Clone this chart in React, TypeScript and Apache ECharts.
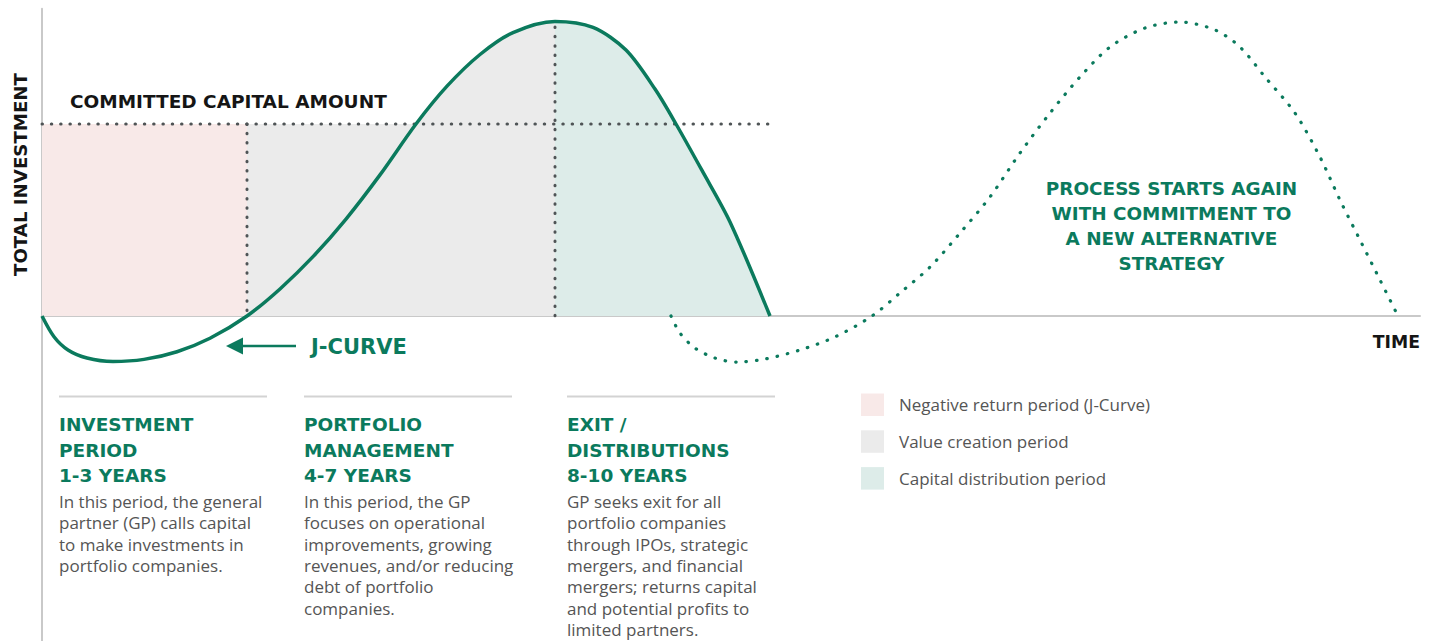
import React, { useEffect, useRef } from "react";
import * as echarts from "echarts";

// ---------- DATA ----------
// x: time (arbitrary units along the horizontal axis), y: total investment (committed capital = 100)
const fundCurve: [number, number][] = [
  [0, 0], [1.2, -10.8], [2.6, -17.7], [4.5, -21.9], [7.1, -23.7], [10.2, -22.6],
  [13.5, -18.6], [16.8, -11.6], [20.5, 0], [23.8, 14.1], [27.1, 30.9], [30.4, 50.5],
  [33.8, 73.5], [37.4, 100], [40.5, 119.7], [43.8, 136.2], [47.1, 147.6], [51.3, 153.4],
  [55.1, 150.3], [58.4, 138.5], [61.3, 118.2], [63.4, 100], [66, 75.8], [68.8, 49],
  [72.8, 0],
];

const nextFundCurve: [number, number][] = [
  [62.9, 0], [63.8, -8.9], [65.3, -16.7], [67.3, -21.9], [69.5, -24], [72.3, -22.4],
  [75.8, -17.7], [79.3, -10.9], [83, 0], [85.8, 12], [88.8, 25.5], [91.8, 43.2],
  [94.8, 62], [97.8, 84.9], [100.8, 105.7], [103.8, 124.5], [106.8, 140.1], [110.3, 150],
  [113.8, 153.1], [117.3, 149], [119.8, 140.1], [122.3, 124.5], [125.3, 105.7],
  [127.8, 82.8], [129.8, 60.4], [131.8, 39.6], [133.8, 18.8], [135.6, 0],
];

const committedCapital = 100;
const committedLineEnd = 73.3;
const phaseBoundaries = [20.5, 51.3];
const boundaryTops = [100, 150.5];
const axisRange = { xMin: 0, xMax: 137.8, yMin: -170, yMax: 160 };

const yAxisTitle = "TOTAL INVESTMENT";
const xAxisTitle = "TIME";
const committedLabel = "COMMITTED CAPITAL AMOUNT";
const jCurveLabel = "J-CURVE";
const restartLabel = ["PROCESS STARTS AGAIN", "WITH COMMITMENT TO", "A NEW ALTERNATIVE", "STRATEGY"];

const phaseTitles = [
  ["INVESTMENT", "PERIOD", "1-3 YEARS"],
  ["PORTFOLIO", "MANAGEMENT", "4-7 YEARS"],
  ["EXIT /", "DISTRIBUTIONS", "8-10 YEARS"],
];
const phaseDescriptions = [
  ["In this period, the general", "partner (GP) calls capital", "to make investments in", "portfolio companies."],
  ["In this period, the GP", "focuses on operational", "improvements, growing", "revenues, and/or reducing", "debt of portfolio", "companies."],
  ["GP seeks exit for all", "portfolio companies", "through IPOs, strategic", "mergers, and financial", "mergers; returns capital", "and potential profits to", "limited partners."],
];
const legendLabels = ["Negative return period (J-Curve)", "Value creation period", "Capital distribution period"];

// ---------- STYLE ----------
const GREEN = "#0b7a5d";
const PINK = "#f8e9e8";
const GRAY = "#ebebeb";
const TEAL = "#ddece9";
const DOT = "#4f5456";
const AXIS = "#c9c9c9";
const BODY = "#555555";
const INK = "#151515";
const HEAD_FONT = '"DejaVu Sans", sans-serif';
const BODY_FONT = '"Open Sans", sans-serif';
const LEGEND_COLORS = [PINK, GRAY, TEAL];
const SMOOTH = 0.3;

const COL_X = [59, 304, 567];
const SEP_W = 208;

function txt(text: string, x: number, y: number, o: any) {
  return {
    type: "text",
    x,
    y,
    rotation: o.rotation || 0,
    silent: true,
    style: {
      text,
      fill: o.fill,
      fontFamily: o.family,
      fontSize: o.size,
      fontWeight: o.weight || "normal",
      lineHeight: o.lineHeight,
      align: o.align || "left",
      textAlign: o.align || "left",
      verticalAlign: o.valign || "middle",
      textVerticalAlign: o.valign || "middle",
    },
  };
}

function buildOption(): any {
  const graphic: any[] = [];

  graphic.push(txt(yAxisTitle, 20, 174.5, { fill: INK, family: HEAD_FONT, size: 18.2, weight: "bold", align: "center", rotation: Math.PI / 2 }));
  graphic.push(txt(committedLabel, 70, 101.5, { fill: INK, family: HEAD_FONT, size: 18.5, weight: "bold" }));
  graphic.push(txt(xAxisTitle, 1420, 341.5, { fill: INK, family: HEAD_FONT, size: 17.3, weight: "bold", align: "right" }));

  // J-curve arrow + label
  graphic.push({ type: "line", silent: true, shape: { x1: 240, y1: 346, x2: 296, y2: 346 }, style: { stroke: GREEN, lineWidth: 2.6 } });
  graphic.push({ type: "polygon", silent: true, shape: { points: [[226, 346], [243, 337.5], [243, 354.5]] }, style: { fill: GREEN } });
  graphic.push(txt(jCurveLabel, 311, 346.5, { fill: GREEN, family: HEAD_FONT, size: 21, weight: "bold" }));

  graphic.push(txt(restartLabel.join("\n"), 1171.5, 175.5, { fill: GREEN, family: HEAD_FONT, size: 18.4, weight: "bold", align: "center", valign: "top", lineHeight: 25 }));

  COL_X.forEach((x, i) => {
    graphic.push({ type: "line", silent: true, shape: { x1: x, y1: 396.5, x2: x + SEP_W, y2: 396.5 }, style: { stroke: "#d3d3d3", lineWidth: 2 } });
    graphic.push(txt(phaseTitles[i].join("\n"), x, 411.7, { fill: GREEN, family: HEAD_FONT, size: 18.5, weight: "bold", valign: "top", lineHeight: 25.6 }));
    graphic.push(txt(phaseDescriptions[i].join("\n"), x, 491, { fill: BODY, family: BODY_FONT, size: 17, valign: "top", lineHeight: 21.3 }));
  });

  legendLabels.forEach((label, i) => {
    const y = 393.5 + i * 36.8;
    graphic.push({ type: "rect", silent: true, shape: { x: 861, y, width: 23, height: 22.5 }, style: { fill: LEGEND_COLORS[i] } });
    graphic.push(txt(label, 899, y + 11.3, { fill: BODY, family: BODY_FONT, size: 17 }));
  });

  const dotted = (color: string, width: number, gap: number) => ({
    color,
    width,
    type: [0.5, gap],
    cap: "round",
  });

  const series: any[] = [
    {
      name: legendLabels[0],
      type: "line",
      data: [[axisRange.xMin, committedCapital], [phaseBoundaries[0], committedCapital]],
      symbol: "none",
      silent: true,
      lineStyle: { width: 0, opacity: 0 },
      areaStyle: { color: PINK, opacity: 1 },
    },
    {
      name: legendLabels[1],
      type: "line",
      data: [[phaseBoundaries[0], committedCapital], [phaseBoundaries[1], committedCapital]],
      symbol: "none",
      silent: true,
      lineStyle: { width: 0, opacity: 0 },
      areaStyle: { color: GRAY, opacity: 1 },
    },
    {
      name: "Fund area",
      type: "line",
      data: fundCurve,
      smooth: SMOOTH,
      symbol: "none",
      silent: true,
      lineStyle: { width: 0, opacity: 0 },
      areaStyle: { opacity: 1 },
    },
    {
      name: "Committed capital",
      type: "line",
      data: [[axisRange.xMin, committedCapital], [committedLineEnd, committedCapital]],
      symbol: "none",
      silent: true,
      lineStyle: dotted(DOT, 3, 8.8),
    },
    {
      name: "Boundary 1",
      type: "line",
      data: [[phaseBoundaries[0], boundaryTops[0]], [phaseBoundaries[0], 0]],
      symbol: "none",
      silent: true,
      lineStyle: dotted(DOT, 3, 8.8),
    },
    {
      name: "Boundary 2",
      type: "line",
      data: [[phaseBoundaries[1], boundaryTops[1]], [phaseBoundaries[1], 0]],
      symbol: "none",
      silent: true,
      lineStyle: dotted(DOT, 3, 8.8),
    },
    {
      name: "Next fund",
      type: "line",
      data: nextFundCurve,
      smooth: SMOOTH,
      symbol: "none",
      silent: true,
      lineStyle: dotted(GREEN, 3.2, 10),
    },
    {
      name: "Fund",
      type: "line",
      data: fundCurve,
      smooth: SMOOTH,
      symbol: "none",
      silent: true,
      lineStyle: { color: GREEN, width: 3.5 },
    },
  ];

  return {
    animation: false,
    backgroundColor: "#ffffff",
    grid: { left: 42, right: 16, top: 8.8, height: 633.6, containLabel: false, outerBoundsMode: "none" },
    xAxis: {
      type: "value",
      min: axisRange.xMin,
      max: axisRange.xMax,
      axisLine: { show: true, onZero: true, lineStyle: { color: AXIS, width: 2 } },
      axisTick: { show: false },
      axisLabel: { show: false },
      splitLine: { show: false },
    },
    yAxis: {
      type: "value",
      min: axisRange.yMin,
      max: axisRange.yMax,
      axisLine: { show: true, onZero: true, lineStyle: { color: AXIS, width: 2 } },
      axisTick: { show: false },
      axisLabel: { show: false },
      splitLine: { show: false },
    },
    visualMap: [
      {
        type: "piecewise",
        show: false,
        dimension: 0,
        seriesIndex: 2,
        pieces: [
          { lt: phaseBoundaries[0], color: "rgba(255,255,255,0)" },
          { gte: phaseBoundaries[0], lt: phaseBoundaries[1], color: GRAY },
          { gte: phaseBoundaries[1], color: TEAL },
        ],
      },
    ],
    tooltip: { show: false },
    series,
    graphic,
  };
}

export default function App() {
  const ref = useRef<HTMLDivElement>(null);
  useEffect(() => {
    if (!ref.current) return;
    const chart = echarts.init(ref.current, undefined, { renderer: "svg" });
    chart.setOption(buildOption());
    return () => chart.dispose();
  }, []);
  return (
    <div style={{ position: "fixed", left: 0, top: 0, width: 1436, height: 641, background: "#fff", overflow: "hidden" }}>
      <div ref={ref} style={{ width: 1436, height: 641 }} />
    </div>
  );
}
